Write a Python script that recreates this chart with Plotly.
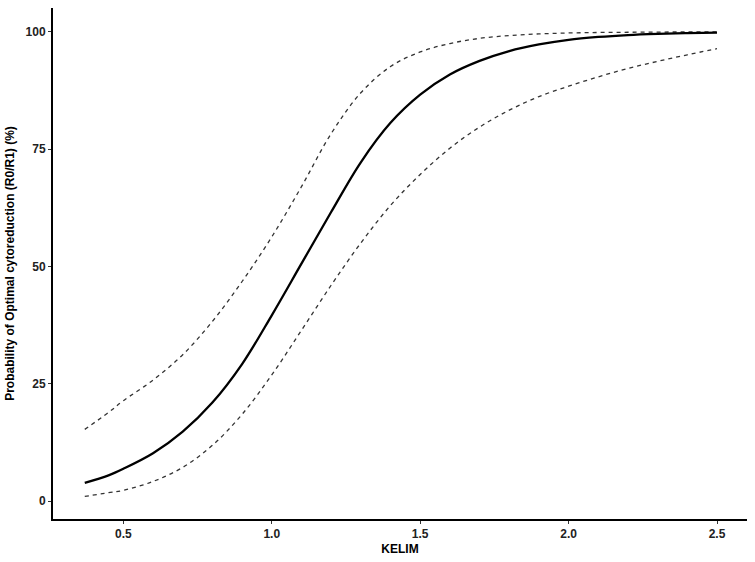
import plotly.graph_objects as go

kelim = [0.37, 0.45, 0.5, 0.6, 0.7, 0.8, 0.9, 1.0, 1.1, 1.2, 1.3, 1.4, 1.5,
         1.6, 1.7, 1.8, 1.9, 2.0, 2.1, 2.2, 2.3, 2.4, 2.5]
prob = [3.9, 5.5, 6.9, 10.2, 14.8, 21.0, 29.2, 39.6, 50.6, 61.6, 72.2, 80.6, 86.6,
        90.9, 93.8, 95.9, 97.3, 98.3, 98.9, 99.3, 99.55, 99.72, 99.83]
upper = [15.3, 18.9, 21.4, 25.8, 31.2, 38.3, 46.8, 56.3, 67.0, 78.3, 87.0, 92.6, 95.7,
         97.5, 98.6, 99.2, 99.55, 99.75, 99.85, 99.9, 99.94, 99.97, 99.99]
lower = [1.0, 1.8, 2.3, 4.2, 7.2, 11.9, 18.5, 26.9, 36.4, 46.0, 55.0, 63.0, 69.6,
         75.2, 79.7, 83.3, 86.2, 88.4, 90.4, 92.2, 93.7, 95.1, 96.4]

x_ticks = [0.5, 1.0, 1.5, 2.0, 2.5]
x_ticktext = ["0.5", "1.0", "1.5", "2.0", "2.5"]
y_ticks = [0, 25, 50, 75, 100]

fig = go.Figure()
for ys in (upper, lower):
    fig.add_trace(go.Scatter(x=kelim, y=ys, mode="lines",
                             line=dict(color="#333333", width=1.3, dash="4px,4px",
                                       shape="spline", smoothing=1.0),
                             showlegend=False, hoverinfo="skip"))
fig.add_trace(go.Scatter(x=kelim, y=prob, mode="lines",
                         line=dict(color="black", width=2.3, shape="spline", smoothing=1.0),
                         showlegend=False))

tick_font = dict(family="Liberation Sans, Arial", size=12, color="#222222", weight="bold")
title_font = dict(family="Liberation Sans, Arial", size=12, color="black")
axis_common = dict(showgrid=False, zeroline=False, showline=True, linecolor="black",
                   linewidth=2, ticks="outside", ticklen=3, tickcolor="#333333", tickwidth=1,
                   tickfont=tick_font)

fig.update_layout(
    width=755, height=562,
    margin=dict(l=53, r=8, t=8, b=38),
    paper_bgcolor="white", plot_bgcolor="white",
    xaxis=dict(range=[0.263, 2.601], tickvals=x_ticks, ticktext=x_ticktext,
               title=dict(text="<b>KELIM</b>", standoff=4, font=title_font),
               **axis_common),
    yaxis=dict(range=[-3.8, 105.07], tickvals=y_ticks,
               title=dict(text="<b>Probability of Optimal cytoreduction (R0/R1) (%)</b>",
                          standoff=8, font=title_font),
               **axis_common),
)

fig.write_html("out.html")
